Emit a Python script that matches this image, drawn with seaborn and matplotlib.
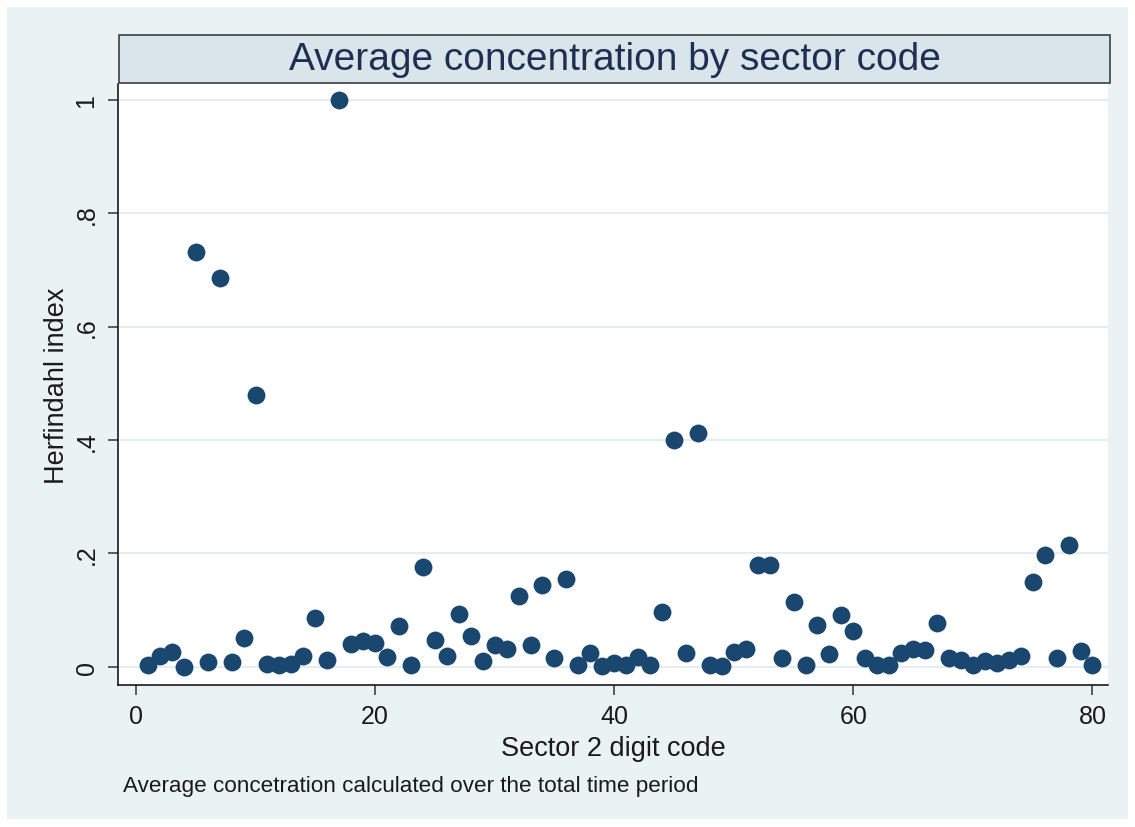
import numpy as np
import pandas as pd
import seaborn as sns
import matplotlib.pyplot as plt
from matplotlib.patches import Rectangle

# Two-digit sector codes and their average Herfindahl index
sector_code = list(range(1, 81))
herfindahl = [
    0.004, 0.019, 0.027, 0.000, 0.732, 0.008, 0.686, 0.009, 0.051, 0.480,
    0.005, 0.004, 0.005, 0.019, 0.086, 0.012, 1.000, 0.040, 0.045, 0.042,
    0.018, 0.072, 0.004, 0.176, 0.048, 0.019, 0.094, 0.055, 0.010, 0.039,
    0.031, 0.125, 0.039, 0.145, 0.016, 0.155, 0.004, 0.025, 0.002, 0.007,
    0.004, 0.017, 0.004, 0.096, 0.400, 0.025, 0.413, 0.004, 0.002, 0.027,
    0.032, 0.180, 0.180, 0.016, 0.114, 0.004, 0.073, 0.022, 0.091, 0.063,
    0.016, 0.004, 0.004, 0.025, 0.032, 0.029, 0.078, 0.016, 0.012, 0.004,
    0.011, 0.006, 0.012, 0.019, 0.150, 0.198, 0.015, 0.215, 0.028, 0.004,
]
x_ticks = [0, 20, 40, 60, 80]
y_ticks = [0, 0.2, 0.4, 0.6, 0.8, 1.0]
y_ticklabels = ["0", ".2", ".4", ".6", ".8", "1"]

df = pd.DataFrame({"sector": sector_code, "hhi": herfindahl})

sns.set_theme(style="white")
plt.rcParams["font.family"] = ["Liberation Sans", "DejaVu Sans"]

W, H = 1135, 828
fig = plt.figure(figsize=(W / 100, H / 100), dpi=100, facecolor="white")

# Light bluish-gray graph region, kept behind the axes
fig.patches.append(Rectangle((7 / W, 8 / H), (1128 - 7) / W, (820 - 8) / H,
                             transform=fig.transFigure, facecolor="#eaf2f3",
                             edgecolor="none", zorder=-10))

ax_left, ax_right = 118 / W, 1108 / W
ax_bottom, ax_top = 1 - 686 / H, 1 - 85 / H
ax = fig.add_axes([ax_left, ax_bottom, ax_right - ax_left, ax_top - ax_bottom])
ax.set_facecolor("white")
ax.set_zorder(1)

# Title band above the plot region
fig.patches.append(Rectangle((119 / W, 1 - 84 / H), (1110 - 119) / W, 48 / H,
                             transform=fig.transFigure, facecolor="#d9e5eb",
                             edgecolor="#3a3f44", linewidth=1.2, zorder=2))
fig.text((119 + 1110) / 2 / W, 1 - 60 / H, "Average concentration by sector code",
         ha="center", va="center", fontsize=28, color="#1f2f52", zorder=3)

sns.scatterplot(data=df, x="sector", y="hhi", ax=ax, s=165, color="#1a476f",
                linewidth=0, zorder=3, legend=False)

ax.set_xlim(-1.5, 81.3)
ax.set_ylim(-0.032, 1.028)
ax.set_xticks(x_ticks)
ax.set_xticklabels([str(t) for t in x_ticks])
ax.set_yticks(y_ticks)
ax.set_yticklabels(y_ticklabels, rotation=90, va="center")

ax.grid(axis="y", color="#e6edef", linewidth=1.6, zorder=0)
ax.grid(axis="x", visible=False)

for side in ("top", "right"):
    ax.spines[side].set_visible(False)
for side in ("left", "bottom"):
    ax.spines[side].set_color("#1a1a1a")
    ax.spines[side].set_linewidth(1.2)

ax.tick_params(axis="both", which="major", direction="out", length=7, width=1.1,
               color="#333333", labelsize=18, labelcolor="#1a1a1a", pad=7,
               bottom=True, left=True)

ax.set_xlabel("Sector 2 digit code", fontsize=19.5, color="#1a1a1a", labelpad=5)
ax.set_ylabel("Herfindahl index", fontsize=19.5, color="#1a1a1a", labelpad=3)

fig.text(123 / W, 1 - 787 / H, "Average concetration calculated over the total time period",
         ha="left", va="center", fontsize=16.2, color="#1a1a1a")

fig.savefig("out.png", dpi=100, facecolor="white")
